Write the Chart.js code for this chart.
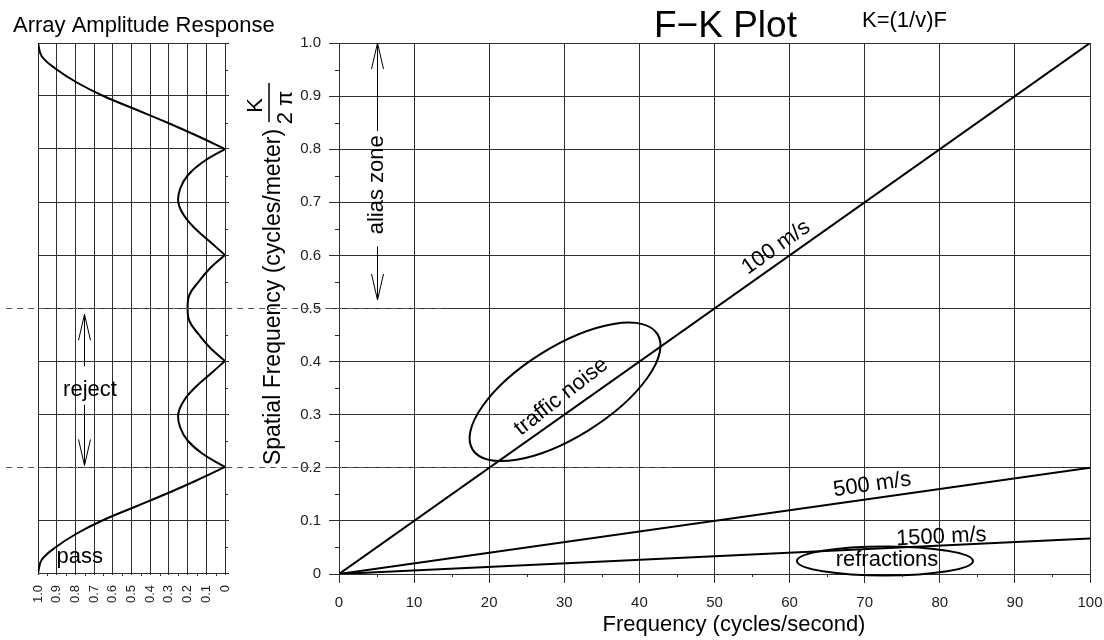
<!DOCTYPE html>
<html>
<head>
<meta charset="utf-8">
<script src="https://cdn.jsdelivr.net/npm/chart.js@4.4.1/dist/chart.umd.min.js"></script>
<style>
html, body { margin: 0; padding: 0; background: #fff; }
#wrap { position: relative; width: 1104px; height: 640px; }
canvas { position: absolute; left: 0; top: 0; }
</style>
</head>
<body>
<div id="wrap">
  <canvas id="ampCanvas" width="1104" height="640"></canvas>
  <canvas id="fkCanvas" width="1104" height="640"></canvas>
</div>
<script>
// F-K lines, K = F / v
var freq = [0, 100];
var k100 = [0, 1.0];
var k500 = [0, 0.2];
var k1500 = [0, 0.0667];
var velocityLabels = ['100 m/s', '500 m/s', '1500 m/s'];

// array amplitude response
var kGrid = [0, 0.025, 0.05, 0.075, 0.1, 0.125, 0.15, 0.175, 0.2, 0.225, 0.25, 0.275, 0.3, 0.325, 0.35, 0.375, 0.4,
  0.425, 0.45, 0.475, 0.5, 0.525, 0.55, 0.575, 0.6, 0.625, 0.65, 0.675, 0.7, 0.725, 0.75, 0.775, 0.8,
  0.825, 0.85, 0.875, 0.9, 0.925, 0.95, 0.975, 1.0];
var amplitude = [1.00, 0.98, 0.90, 0.79, 0.65, 0.48, 0.31, 0.15, 0, 0.12, 0.20, 0.24, 0.25, 0.22, 0.16, 0.08, 0,
  0.08, 0.14, 0.19, 0.20, 0.19, 0.14, 0.08, 0, 0.08, 0.16, 0.22, 0.25, 0.24, 0.20, 0.12, 0,
  0.15, 0.31, 0.48, 0.65, 0.79, 0.90, 0.98, 1.00];

// tick labels
var ampTickLabels = ['0', '0.1', '0.2', '0.3', '0.4', '0.5', '0.6', '0.7', '0.8', '0.9', '1.0'];
var kTickLabels = ['0', '0.1', '0.2', '0.3', '0.4', '0.5', '0.6', '0.7', '0.8', '0.9', '1.0'];
var freqTickLabels = ['0', '10', '20', '30', '40', '50', '60', '70', '80', '90', '100'];

var FONT = '"Liberation Sans", Arial, Helvetica, sans-serif';
var GRID = '#2e2e2e';

function text(ctx, str, x, y, angle, size, align, baseline) {
  ctx.save();
  ctx.translate(x, y);
  ctx.rotate(angle * Math.PI / 180);
  ctx.font = size + 'px ' + FONT;
  ctx.textAlign = align;
  ctx.textBaseline = baseline;
  ctx.fillText(str, 0, 0);
  ctx.restore();
}

// double headed arrow with a gap for the label
function arrow(ctx, x, yTop, yBot, gapTop, gapBot) {
  ctx.beginPath();
  ctx.moveTo(x, yTop); ctx.lineTo(x, gapTop);
  ctx.moveTo(x, gapBot); ctx.lineTo(x, yBot);
  ctx.moveTo(x - 6, yTop + 26); ctx.lineTo(x, yTop); ctx.lineTo(x + 6, yTop + 26);
  ctx.moveTo(x - 6, yBot - 26); ctx.lineTo(x, yBot); ctx.lineTo(x + 6, yBot - 26);
  ctx.stroke();
}

function minorTicks(specs) {
  return {
    id: 'minorTicks',
    afterDraw: function(chart) {
      var ctx = chart.ctx, a = chart.chartArea;
      ctx.save();
      ctx.strokeStyle = GRID;
      ctx.lineWidth = 1;
      specs.forEach(function(s) {
        var sc = chart.scales[s.axis];
        for (var v = s.from; v <= s.to + 1e-9; v += s.step) {
          var p = Math.round(sc.getPixelForValue(v)) + 0.5;
          ctx.beginPath();
          if (s.side === 'bottom') { ctx.moveTo(p, a.bottom); ctx.lineTo(p, a.bottom + s.len); }
          else if (s.side === 'left') { ctx.moveTo(a.left, p); ctx.lineTo(a.left - s.len, p); }
          else { ctx.moveTo(a.right, p); ctx.lineTo(a.right + s.len, p); }
          ctx.stroke();
        }
      });
      ctx.restore();
    }
  };
}

// split the response curve into lobes so the nulls stay sharp
var lobes = [];
var cur = [];
kGrid.forEach(function(k, i) {
  cur.push({x: amplitude[i], y: k});
  if (amplitude[i] === 0 && cur.length > 1) {
    lobes.push(cur);
    cur = [{x: amplitude[i], y: k}];
  }
});
if (cur.length > 1) lobes.push(cur);

var ampNotes = {
  id: 'ampNotes',
  afterDatasetsDraw: function(chart) {
    var ctx = chart.ctx, xs = chart.scales.x, ys = chart.scales.y;
    ctx.save();
    ctx.fillStyle = '#000';
    ctx.strokeStyle = '#000';
    ctx.lineWidth = 1;
    text(ctx, 'Array Amplitude Response', 13, 32, 0, 22, 'left', 'alphabetic');
    arrow(ctx, Math.round(xs.getPixelForValue(0.755)) + 0.5, ys.getPixelForValue(0.488), ys.getPixelForValue(0.203),
      ys.getPixelForValue(0.390), ys.getPixelForValue(0.317));
    text(ctx, 'reject', xs.getPixelForValue(0.722), ys.getPixelForValue(0.345), 0, 22, 'center', 'middle');
    text(ctx, 'pass', xs.getPixelForValue(0.777), ys.getPixelForValue(0.030), 0, 22, 'center', 'middle');
    ctx.restore();
  }
};

var ampChart = new Chart(document.getElementById('ampCanvas'), {
  type: 'scatter',
  data: {
    datasets: lobes.map(function(l) {
      return {data: l, showLine: true, borderColor: '#000', borderWidth: 2, pointRadius: 0, tension: 0.4};
    })
  },
  options: {
    responsive: false,
    animation: false,
    events: [],
    layout: {padding: {left: 38, right: 875, top: 43, bottom: 27}},
    plugins: {legend: {display: false}, tooltip: {enabled: false}},
    scales: {
      x: {
        type: 'linear', reverse: true, min: 0, max: 1,
        afterFit: function(s) { s.height = 40; s.paddingLeft = 0; s.paddingRight = 0; },
        ticks: {
          stepSize: 0.1, autoSkip: false, minRotation: 90, maxRotation: 90, padding: 10,
          color: '#222', font: {family: FONT, size: 13},
          callback: function(v) { return ampTickLabels[Math.round(v * 10)]; }
        },
        grid: {color: GRID, tickColor: GRID, tickLength: 2},
        border: {color: GRID}
      },
      y: {
        type: 'linear', position: 'right', min: 0, max: 1,
        afterFit: function(s) { s.width = 4; },
        ticks: {stepSize: 0.1, display: false},
        grid: {color: GRID, tickColor: GRID, tickLength: 4},
        border: {color: GRID}
      }
    }
  },
  plugins: [
    minorTicks([{axis: 'x', from: 0.05, to: 0.95, step: 0.1, len: 3, side: 'bottom'},
                {axis: 'y', from: 0.05, to: 0.95, step: 0.1, len: 3, side: 'right'}]),
    ampNotes
  ]
});

var guides = [{k: 0.5, fromAmp: 1.17, toFreq: 13.8}, {k: 0.2, fromAmp: 1.17, toFreq: 44.3}];
var lineNotes = [{f: 58.2, k: 0.615}, {f: 71.0, k: 0.168}, {f: 80.2, k: 0.0697}];
var ellipses = [
  {label: 'traffic noise', f: 30.1, k: 0.343, rx: 109, ry: 45, rot: -32, tf: 29.6, tk: 0.334, tAngle: -38},
  {label: 'refractions', f: 72.7, k: 0.0245, rx: 88, ry: 14.5, rot: 0, tf: 72.97, tk: 0.026, tAngle: 0}
];

var fkNotes = {
  id: 'fkNotes',
  afterDatasetsDraw: function(chart) {
    var ctx = chart.ctx, xs = chart.scales.x, ys = chart.scales.y;
    ctx.save();
    ctx.fillStyle = '#000';
    ctx.strokeStyle = '#000';

    text(ctx, 'F\u2212K Plot', 654, 37, 0, 37, 'left', 'alphabetic');
    text(ctx, 'K=(1/v)F', 862, 27, 0, 22, 'left', 'alphabetic');
    text(ctx, 'Frequency (cycles/second)', 734, 631, 0, 22, 'center', 'alphabetic');
    text(ctx, 'Spatial Frequency (cycles/meter)', 280, 297, -90, 23, 'center', 'alphabetic');

    // K over 2 pi
    ctx.save();
    ctx.translate(269, 104);
    ctx.rotate(-Math.PI / 2);
    ctx.font = '22px ' + FONT;
    ctx.textAlign = 'center';
    ctx.textBaseline = 'alphabetic';
    ctx.fillText('K', -1.5, -7);
    ctx.fillText('2 \u03c0', -3.5, 23);
    ctx.lineWidth = 1.5;
    ctx.beginPath(); ctx.moveTo(-18, 0); ctx.lineTo(21, 0); ctx.stroke();
    ctx.restore();

    // dashed pass / reject limits across both panels
    ctx.save();
    ctx.strokeStyle = '#555';
    ctx.lineWidth = 1;
    ctx.setLineDash([6, 5]);
    guides.forEach(function(g) {
      var y = Math.round(ys.getPixelForValue(g.k)) - 0.5;
      ctx.beginPath();
      ctx.moveTo(ampChart.scales.x.getPixelForValue(g.fromAmp), y);
      ctx.lineTo(xs.getPixelForValue(g.toFreq), y);
      ctx.stroke();
    });
    ctx.restore();

    // alias zone
    ctx.lineWidth = 1;
    arrow(ctx, Math.round(xs.getPixelForValue(5)) + 0.5, ys.getPixelForValue(1.0), ys.getPixelForValue(0.516),
      ys.getPixelForValue(0.834), ys.getPixelForValue(0.617));
    text(ctx, 'alias zone', xs.getPixelForValue(5), ys.getPixelForValue(0.733), -90, 22, 'center', 'middle');

    // velocity labels along the lines
    [k100, k500, k1500].forEach(function(ks, i) {
      var ang = Math.atan2(ys.getPixelForValue(ks[1]) - ys.getPixelForValue(ks[0]),
                           xs.getPixelForValue(freq[1]) - xs.getPixelForValue(freq[0])) * 180 / Math.PI;
      text(ctx, velocityLabels[i], xs.getPixelForValue(lineNotes[i].f), ys.getPixelForValue(lineNotes[i].k), ang, 22, 'center', 'middle');
    });

    // event ellipses
    ctx.lineWidth = 2;
    ellipses.forEach(function(e) {
      ctx.beginPath();
      ctx.ellipse(xs.getPixelForValue(e.f), ys.getPixelForValue(e.k), e.rx, e.ry, e.rot * Math.PI / 180, 0, Math.PI * 2);
      ctx.stroke();
      text(ctx, e.label, xs.getPixelForValue(e.tf), ys.getPixelForValue(e.tk), e.tAngle, 22, 'center', 'middle');
    });
    ctx.restore();
  }
};

var fkChart = new Chart(document.getElementById('fkCanvas'), {
  type: 'scatter',
  data: {
    datasets: [k100, k500, k1500].map(function(ks) {
      return {
        data: freq.map(function(f, i) { return {x: f, y: ks[i]}; }),
        showLine: true, borderColor: '#000', borderWidth: 2, pointRadius: 0
      };
    })
  },
  options: {
    responsive: false,
    animation: false,
    events: [],
    layout: {padding: {left: 300, right: 14, top: 43, bottom: 26}},
    plugins: {legend: {display: false}, tooltip: {enabled: false}},
    scales: {
      x: {
        type: 'linear', min: 0, max: 100,
        afterFit: function(s) { s.height = 40; s.paddingLeft = 0; s.paddingRight = 0; },
        ticks: {
          stepSize: 10, autoSkip: false, maxRotation: 0, padding: 11,
          color: '#222', font: {family: FONT, size: 15},
          callback: function(v) { return freqTickLabels[Math.round(v / 10)]; }
        },
        grid: {color: GRID, tickColor: GRID, tickLength: 9},
        border: {color: GRID}
      },
      y: {
        type: 'linear', min: 0, max: 1,
        afterFit: function(s) { s.width = 39; },
        ticks: {
          stepSize: 0.1, autoSkip: false, padding: 8,
          color: '#222', font: {family: FONT, size: 15},
          callback: function(v) { return kTickLabels[Math.round(v * 10)]; }
        },
        grid: {color: GRID, tickColor: GRID, tickLength: 10},
        border: {color: GRID}
      }
    }
  },
  plugins: [
    minorTicks([{axis: 'x', from: 5, to: 95, step: 10, len: 3, side: 'bottom'},
                {axis: 'y', from: 0.05, to: 0.95, step: 0.1, len: 4, side: 'left'}]),
    fkNotes
  ]
});
</script>
</body>
</html>
